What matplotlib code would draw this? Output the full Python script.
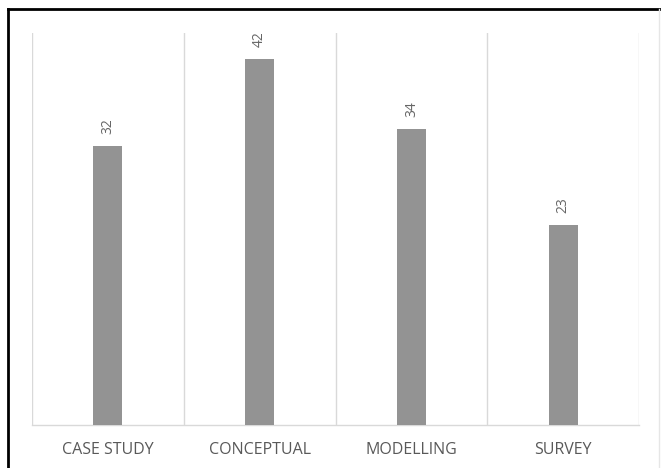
import numpy as np
import matplotlib.pyplot as plt
from matplotlib.lines import Line2D

categories = ['CASE STUDY', 'CONCEPTUAL', 'MODELLING', 'SURVEY']
counts = [32, 42, 34, 23]

W, H = 661, 468
fig = plt.figure(figsize=(W / 100, H / 100), dpi=100)
plt.rcParams['font.family'] = ['Open Sans', 'DejaVu Sans']

# axes placed in pixel terms of the reference
left, right, top, bottom = 32, 639, 33, 425
ax = fig.add_axes([left / W, 1 - bottom / H, (right - left) / W, (bottom - top) / H])

x = np.arange(len(categories))
ax.bar(x, counts, width=0.19, color='#939393', zorder=3)
ax.set_xlim(-0.5, len(categories) - 0.5)
ax.set_ylim(0, 45)

# category separators
for b in np.arange(-0.5, len(categories), 1.0):
    ax.axvline(b, color='#d9d9d9', lw=1, zorder=1)

for s in ['top', 'left', 'right']:
    ax.spines[s].set_visible(False)
ax.spines['bottom'].set_color('#d9d9d9')
ax.spines['bottom'].set_linewidth(1)
ax.set_yticks([])
ax.set_xticks(x)
ax.set_xticklabels(categories, fontsize=11.5, color='#595959')
ax.tick_params(axis='x', length=0, pad=12.5)

for xi, v in zip(x, counts):
    ax.annotate(str(v), (xi, v), xytext=(0, 8.5), textcoords='offset points',
                rotation=90, ha='center', va='bottom', fontsize=10, color='#666666')

# frame around the chart (top and left edges visible)
fig.add_artist(Line2D([8 / W, 8 / W], [0, 1 - 9 / H], color='black', lw=2, transform=fig.transFigure))
fig.add_artist(Line2D([8 / W, 1], [1 - 9 / H, 1 - 9 / H], color='black', lw=2, transform=fig.transFigure))
fig.add_artist(Line2D([659 / W, 659 / W], [0, 1 - 9 / H], color='#e6e6e6', lw=1, transform=fig.transFigure))

fig.savefig('out.png', dpi=100)
